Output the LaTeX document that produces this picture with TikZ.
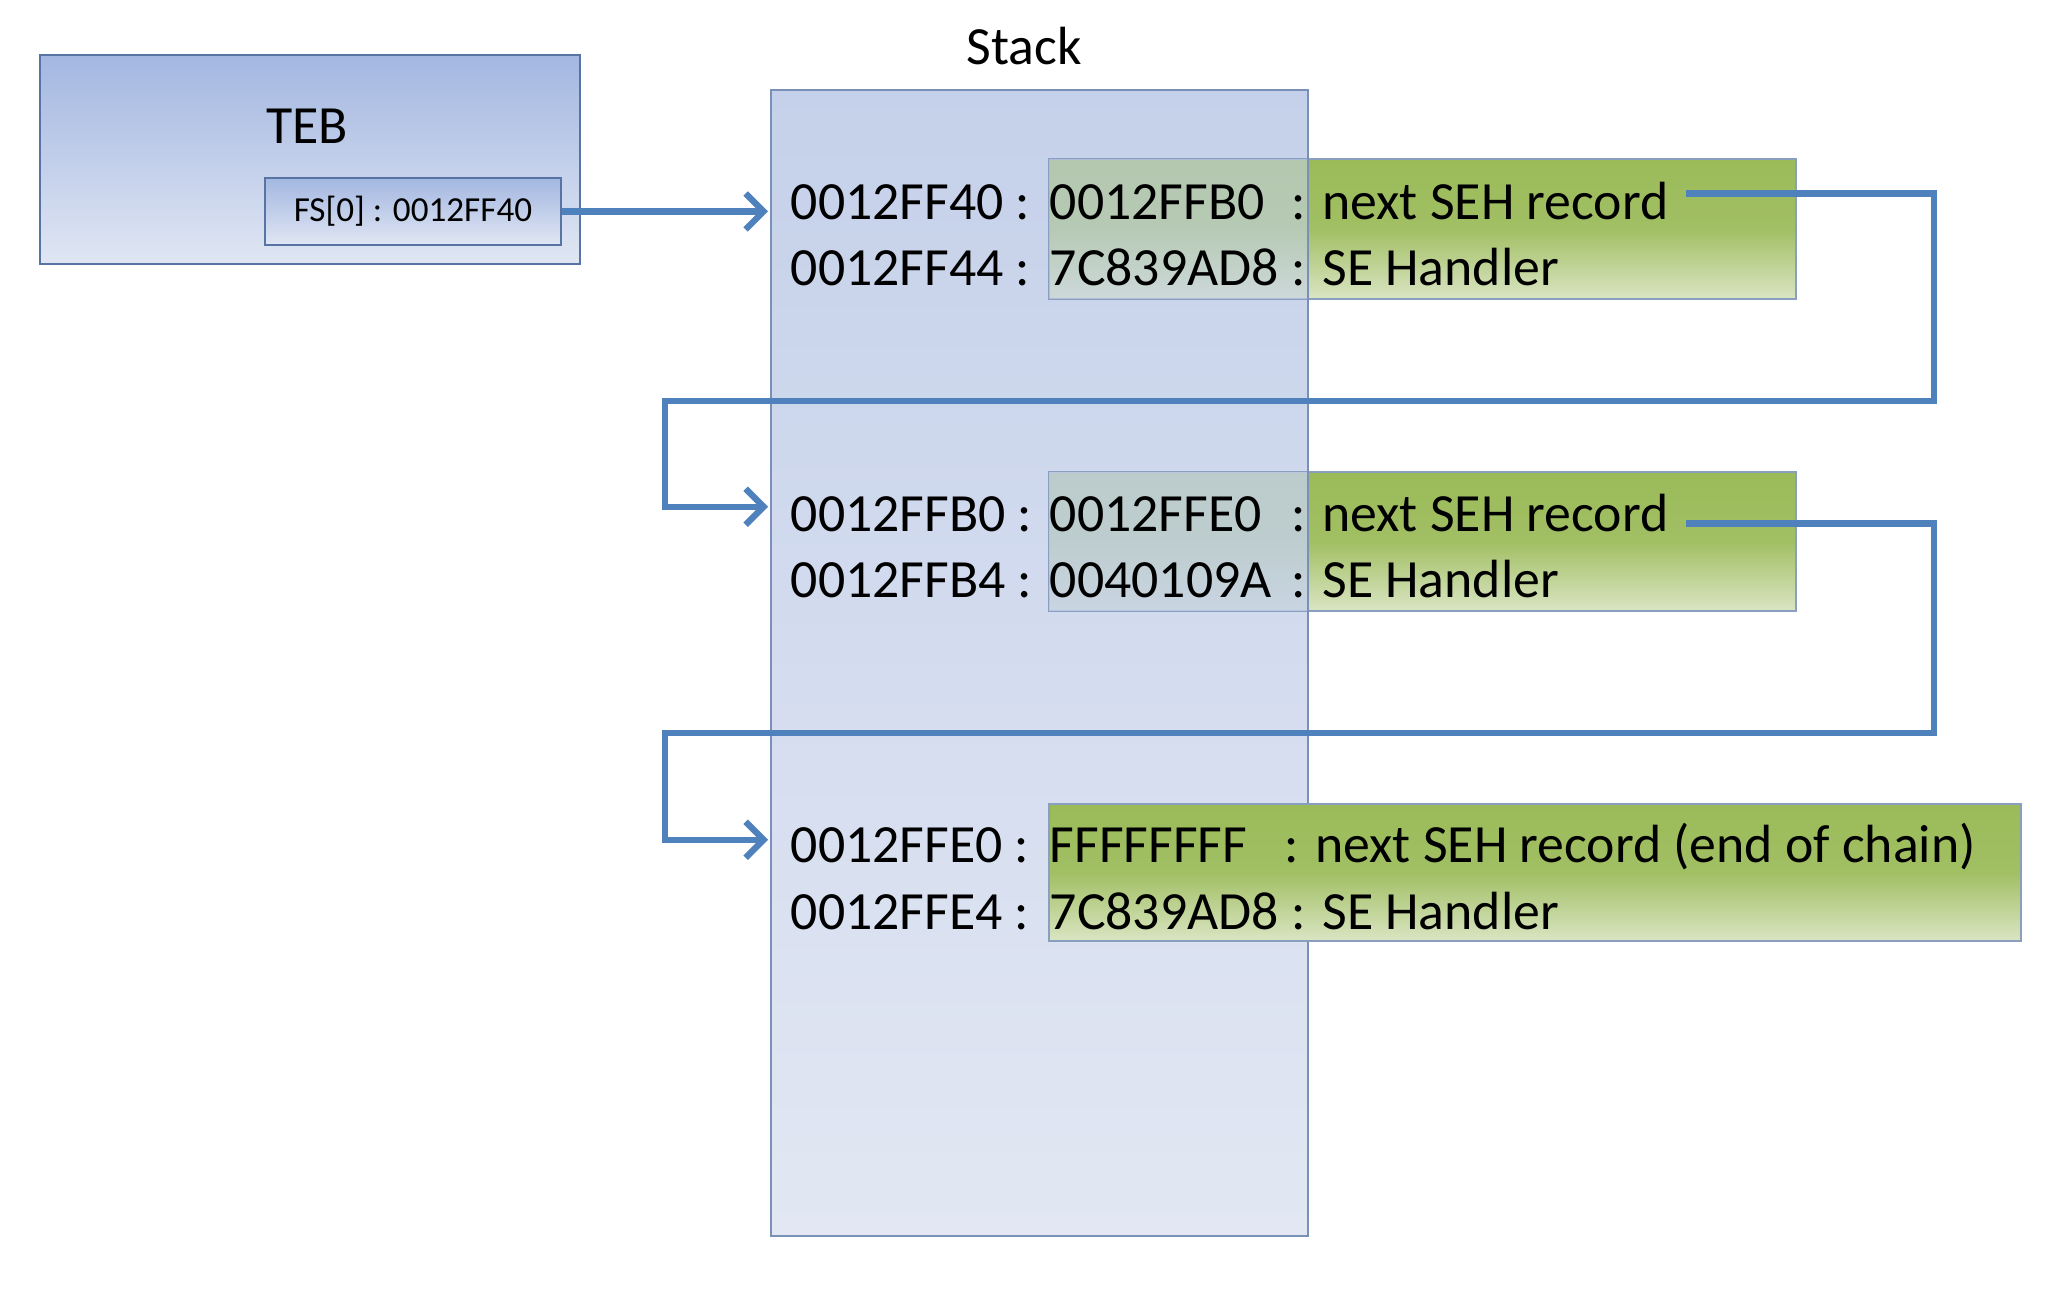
\documentclass[tikz,border=0pt]{standalone}
\usepackage{fontspec}
\setmainfont{Carlito}
\usetikzlibrary{arrows.meta,positioning}

\definecolor{tebtop}{RGB}{163,183,225}
\definecolor{tebbot}{RGB}{224,230,243}
\definecolor{stacktop}{RGB}{197,209,234}
\definecolor{stackbot}{RGB}{226,231,243}
\definecolor{frameblue}{RGB}{88,116,165}
\definecolor{linkblue}{RGB}{79,129,189}
\definecolor{sehgreen}{RGB}{155,187,89}
\definecolor{sehlight}{RGB}{218,229,195}

\newcommand{\cellfont}{\fontsize{15.3}{18}\selectfont}

\begin{document}
\begin{tikzpicture}[
  cell/.style={font=\cellfont, inner sep=2pt, anchor=base west},
  link/.style={draw=linkblue, line width=1.8pt, -{Straight Barb[length=1.8mm,width=3.6mm]}},
  record/.style={draw=frameblue!70, line width=0.6pt, top color=sehgreen, bottom color=sehlight, middle color=sehgreen!90!sehlight}
]
\useasboundingbox (0,0) rectangle (20.66,-13);

% TEB
\draw[frameblue, line width=0.8pt, top color=tebtop, bottom color=tebbot] (0.40,-0.55) rectangle (5.80,-2.64);
\node[font=\cellfont] (teb) at (3.07,-1.26) {TEB};
\node[draw=frameblue, line width=0.8pt, top color=tebtop, bottom color=tebbot, minimum width=2.96cm, minimum height=0.67cm, font=\fontsize{10}{12}\selectfont] (fs) at (4.13,-2.115) {FS[0] : 0012FF40};

% stack
\shade[top color=stacktop, bottom color=stackbot] (7.71,-0.90) rectangle (13.08,-12.36);
\node[font=\cellfont] (stack) at (10.24,-0.46) {Stack};

% records
\draw[record] (10.49,-1.59) rectangle (17.96,-2.99);
\draw[record] (10.49,-4.72) rectangle (17.96,-6.11);
\begin{scope}
  \clip (7.71,-0.90) rectangle (13.08,-12.36);
  \fill[stacktop, fill opacity=0.6] (10.49,-1.59) rectangle (17.96,-2.99);
  \fill[stacktop, fill opacity=0.8] (10.49,-4.72) rectangle (17.96,-6.11);
\end{scope}
\draw[frameblue!80, line width=0.6pt] (7.71,-0.90) rectangle (13.08,-12.36);
\draw[record] (10.49,-8.04) rectangle (20.21,-9.41);

% stack entries
\node[cell] (a1) at (7.83,-2.20) {0012FF40 :};
\node[cell] (v1) at (10.42,-2.20) {0012FFB0};
\node[cell] (d1) at (12.84,-2.20) {: next SEH record};
\node[cell] (a2) at (7.83,-2.86) {0012FF44 :};
\node[cell] (v2) at (10.42,-2.86) {7C839AD8};
\node[cell] (d2) at (12.84,-2.86) {: SE Handler};

\node[cell] (a3) at (7.83,-5.32) {0012FFB0 :};
\node[cell] (v3) at (10.42,-5.32) {0012FFE0};
\node[cell] (d3) at (12.84,-5.32) {: next SEH record};
\node[cell] (a4) at (7.83,-5.98) {0012FFB4 :};
\node[cell] (v4) at (10.42,-5.98) {0040109A};
\node[cell] (d4) at (12.84,-5.98) {: SE Handler};

\node[cell] (a5) at (7.83,-8.63) {0012FFE0 :};
\node[cell] (v5) at (10.42,-8.63) {FFFFFFFF};
\node[cell] (d5) at (12.77,-8.63) {: next SEH record (end of chain)};
\node[cell] (a6) at (7.83,-9.30) {0012FFE4 :};
\node[cell] (v6) at (10.42,-9.30) {7C839AD8};
\node[cell] (d6) at (12.84,-9.30) {: SE Handler};

% chain
\coordinate (r1) at (19.34,-4.01);
\coordinate (l1) at (6.65,-4.01);
\coordinate (r2) at (19.34,-7.33);
\coordinate (l2) at (6.65,-7.33);
\draw[link, shorten >=1.5mm] (fs.east) -- (fs.east -| a1.west);
\draw[link, shorten >=1.5mm] ([xshift=1mm,yshift=0.8mm]d1.east) -| (r1) -- (l1) |- ([yshift=0.8mm]a3.west);
\draw[link, shorten >=1.5mm] ([xshift=1mm,yshift=-1mm]d3.east) -| (r2) -- (l2) |- ([yshift=0.6mm]a5.west);
\end{tikzpicture}
\end{document}
